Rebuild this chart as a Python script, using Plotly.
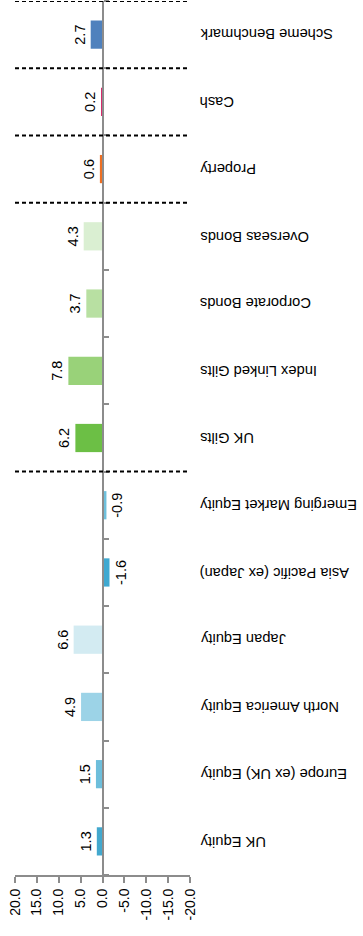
import plotly.graph_objects as go

categories = ["UK Equity", "Europe (ex UK) Equity", "North America Equity", "Japan Equity",
              "Asia Pacific (ex Japan)", "Emerging Market Equity", "UK Gilts", "Index Linked Gilts",
              "Corporate Bonds", "Overseas Bonds", "Property", "Cash", "Scheme Benchmark"]
values = [1.3, 1.5, 4.9, 6.6, -1.6, -0.9, 6.2, 7.8, 3.7, 4.3, 0.6, 0.2, 2.7]
colors = ["#42A8CE", "#6DBEDB", "#9CD3E7", "#D3EBF2", "#3FA9D1", "#6EC0DC",
          "#6CBF45", "#99D279", "#B8E0A2", "#DAEFD2", "#EE6F22", "#D62C6C", "#4F81BD"]
tick_values = [20, 15, 10, 5, 0, -5, -10, -15, -20]
tick_labels = ["20.0", "15.0", "10.0", "5.0", "0.0", "-5.0", "-10.0", "-15.0", "-20.0"]
separators = [12.5, 11.5, 10.5, 9.5, 5.5]

FONT = "Liberation Sans, Arial, sans-serif"

fig = go.Figure()
fig.add_trace(go.Bar(
    y=categories, x=values, orientation="h",
    marker=dict(color=colors, line=dict(width=0)),
    width=0.42,
    text=[f"{v:.1f}" for v in values],
    textposition="outside", textangle=-90,
    textfont=dict(family=FONT, size=14.5, color="#000000"),
    constraintext="none", cliponaxis=False,
    hoverinfo="skip",
))

for s in separators:
    fig.add_shape(type="line", xref="paper", x0=0, x1=1, yref="y", y0=s, y1=s,
                  line=dict(color="#000000", width=2, dash="4px,3px"), layer="above")

W = 363
L, R = 15, 190.5
for c in categories:
    fig.add_annotation(text=c, xref="paper", x=(198 - L) / (R - L), xanchor="left",
                       yref="y", y=c, yanchor="middle", showarrow=False, textangle=180,
                       font=dict(family=FONT, size=14.7, color="#000000"))

fig.update_layout(
    template="none",
    width=W, height=936,
    margin=dict(l=L, r=W - R, t=1, b=936 - 875, autoexpand=False),
    plot_bgcolor="#FFFFFF", paper_bgcolor="#FFFFFF",
    showlegend=False, bargap=0.58,
    font=dict(family=FONT, size=14, color="#000000"),
    xaxis=dict(range=[20, -20], tickvals=tick_values, ticktext=tick_labels, tickangle=-90,
               automargin=False,
               showgrid=False, zeroline=False, showline=True, linecolor="#8C8C8C", linewidth=2,
               ticks="outside", ticklen=6, tickwidth=2, tickcolor="#8C8C8C",
               tickfont=dict(family=FONT, size=14, color="#000000")),
    yaxis=dict(range=[-0.5, 12.5], type="category", anchor="free", position=0.5, side="right",
               automargin=False,
               showticklabels=False, showgrid=False, zeroline=False,
               showline=True, linecolor="#8C8C8C", linewidth=2,
               ticks="outside", tickson="boundaries", ticklen=5, tickwidth=2, tickcolor="#8C8C8C"),
)

fig.write_html("out.html", config={"displayModeBar": False},
               post_script="document.body.style.margin='0';")
